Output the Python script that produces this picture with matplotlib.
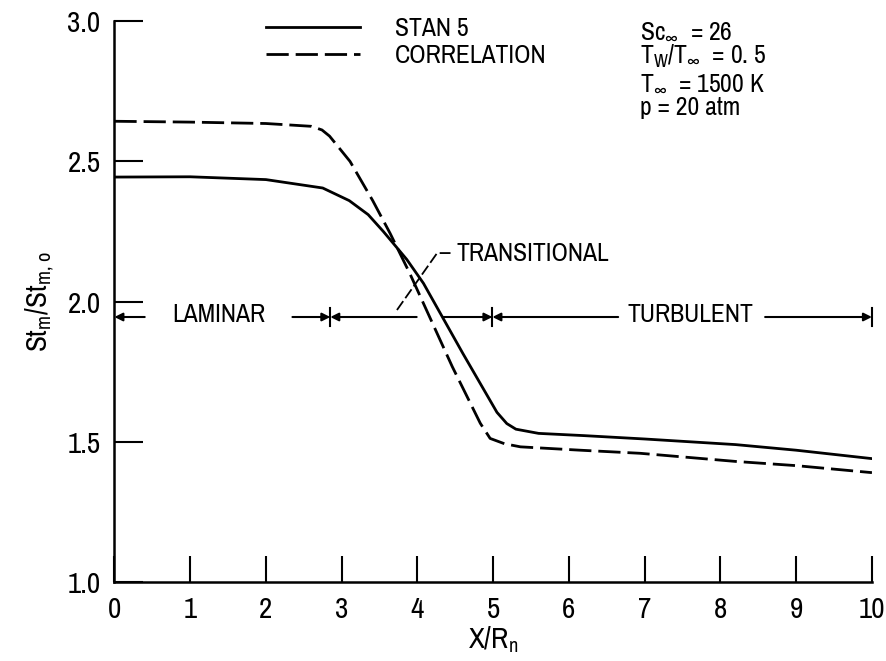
import numpy as np
import matplotlib
matplotlib.use("Agg")
import matplotlib.pyplot as plt
from matplotlib import font_manager

# the scan uses narrow lettering; look for a narrow / condensed face
fonts = font_manager.fontManager.ttflist
names = {f.name for f in fonts}
face, stretch, scale = "DejaVu Sans", "normal", 0.86
narrow = sorted(n for n in names if "Narrow" in n or "Condensed" in n)
if narrow:
    face, scale = narrow[0], 1.0
else:
    for fam in ["Liberation Sans", "Noto Sans", "DejaVu Sans", "Roboto", "Open Sans"]:
        if any(f.name == fam and str(f.stretch) in ("condensed", "semi-condensed", "extra-condensed")
               for f in fonts):
            face, stretch, scale = fam, "condensed", 1.0
            break

plt.rcParams["font.family"] = [face, "DejaVu Sans"]
plt.rcParams["font.stretch"] = stretch
plt.rcParams["mathtext.fontset"] = "custom"
plt.rcParams["mathtext.rm"] = face
plt.rcParams["mathtext.it"] = face
plt.rcParams["mathtext.bf"] = face

fs = 18.5 * scale
tfs = 21 * scale

# STAN 5 computation (solid)
stan_x = [0.0, 1.0, 2.0, 2.75, 3.1, 3.35, 3.55, 3.86, 4.08, 4.6, 5.05, 5.18, 5.3, 5.6, 6.2, 7.0, 8.2, 9.0, 10.0]
stan_y = [2.444, 2.445, 2.435, 2.405, 2.36, 2.31, 2.25, 2.15, 2.065, 1.815, 1.605, 1.565, 1.545, 1.53, 1.522, 1.51, 1.49, 1.47, 1.44]

# correlation (dashed)
corr_x = [0.0, 1.0, 2.0, 2.6, 2.74, 2.84, 3.11, 3.41, 3.64, 3.9, 4.46, 4.83, 4.96, 5.15, 5.36, 6.15, 6.94, 8.2, 9.0, 10.0]
corr_y = [2.643, 2.64, 2.635, 2.625, 2.612, 2.59, 2.50, 2.36, 2.243, 2.10, 1.768, 1.566, 1.512, 1.493, 1.482, 1.47, 1.459, 1.43, 1.415, 1.39]

x_ticks = [0, 1, 2, 3, 4, 5, 6, 7, 8, 9, 10]
y_ticks = [1.0, 1.5, 2.0, 2.5, 3.0]

# flow regime boundaries
laminar_end = 2.85
transition_end = 4.99
regime_y = 1.945

conditions = [r"Sc$_\infty$  = 26", r"T$_\mathrm{W}$/T$_\infty$  = 0. 5",
              r"T$_\infty$  = 1500 K", r"p = 20 atm"]

fig = plt.figure(figsize=(8.87, 6.61), dpi=100)
ax = fig.add_axes([0.129, 0.1195, 0.854, 0.8485])

ax.plot(stan_x, stan_y, color="k", lw=2.0, label="STAN 5")
ax.plot(corr_x, corr_y, color="k", lw=2.0, linestyle=(0, (8, 2.5)), label="CORRELATION")

ax.set_xlim(0, 10)
ax.set_ylim(1.0, 3.0)
ax.set_xticks(x_ticks)
ax.set_yticks(y_ticks)
ax.set_xticklabels([str(t) for t in x_ticks])
ax.set_yticklabels(["1.0", "1.5", "2.0", "2.5", "3.0"])
for s in ["top", "right"]:
    ax.spines[s].set_visible(False)
for s in ["left", "bottom"]:
    ax.spines[s].set_linewidth(1.8)
ax.tick_params(axis="y", direction="in", length=21, width=1.5, labelsize=tfs, pad=10)
ax.tick_params(axis="x", direction="in", length=19, width=1.5, labelsize=tfs, pad=10)

ax.set_xlabel(r"X/R$_\mathrm{n}$", fontsize=tfs, labelpad=1)
ax.set_ylabel(r"St$_\mathrm{m}$/St$_\mathrm{m,\,o}$", fontsize=tfs, labelpad=8)

leg = ax.legend(loc="upper left", bbox_to_anchor=(266 / 887, 1 - 17 / 661),
                bbox_transform=fig.transFigure, frameon=False, fontsize=fs,
                handlelength=68 / fs, handletextpad=25 / fs, labelspacing=0.15,
                borderpad=0, borderaxespad=0)

for i, t in enumerate(conditions):
    ax.text(6.94, 2.968 - 0.092 * i, t, fontsize=fs, ha="left", va="center")

# regime arrows
arw = dict(arrowstyle="-|>", lw=1.5, color="k", shrinkA=0, shrinkB=0,
           mutation_scale=12)
def arrow(x0, x1):
    ax.annotate("", xy=(x1, regime_y), xytext=(x0, regime_y), arrowprops=arw)

arrow(0.4, 0.0)
arrow(2.35, laminar_end)
arrow(3.99, laminar_end)
arrow(4.34, transition_end)
arrow(6.65, transition_end)
arrow(8.59, 10.0)
for xb in [laminar_end, transition_end, 10.0]:
    ax.plot([xb, xb], [regime_y - 0.032, regime_y + 0.032], color="k", lw=1.5,
            clip_on=False)

ax.text(1.38, regime_y + 0.01, "LAMINAR", fontsize=fs, ha="center", va="center")
ax.text(7.61, regime_y + 0.01, "TURBULENT", fontsize=fs, ha="center", va="center")
ax.text(4.52, 2.17, "TRANSITIONAL", fontsize=fs, ha="left", va="center")
ax.plot([3.73, 4.26, 4.47], [1.97, 2.173, 2.173], color="k", lw=1.3,
        linestyle=(0, (6, 2)))

fig.savefig("out.png", dpi=100)
